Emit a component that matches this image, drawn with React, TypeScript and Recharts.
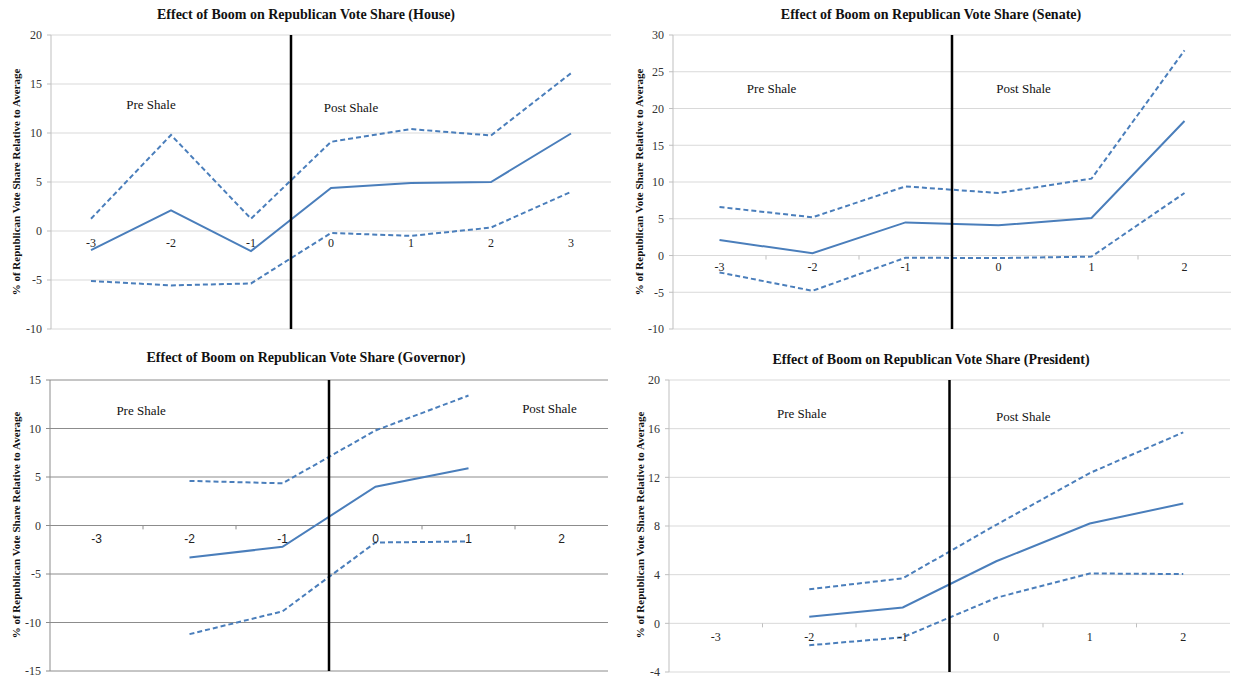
import React from 'react';
import { LineChart, Line, XAxis, YAxis, CartesianGrid, ReferenceLine, ReferenceDot } from 'recharts';

const houseYears = [-3, -2, -1, 0, 1, 2, 3];
const houseMean = [-1.95, 2.1, -2.05, 4.4, 4.9, 5.0, 9.95];
const houseUpper = [1.25, 9.8, 1.25, 9.1, 10.4, 9.75, 16.1];
const houseLower = [-5.1, -5.55, -5.35, -0.2, -0.5, 0.35, 4.0];
const houseTicks = [-10, -5, 0, 5, 10, 15, 20];

const senateYears = [-3, -2, -1, 0, 1, 2];
const senateMean = [2.1, 0.3, 4.5, 4.1, 5.1, 18.3];
const senateUpper = [6.6, 5.2, 9.4, 8.5, 10.45, 27.9];
const senateLower = [-2.3, -4.8, -0.3, -0.35, -0.15, 8.5];
const senateTicks = [-10, -5, 0, 5, 10, 15, 20, 25, 30];

const governorYears = [-3, -2, -1, 0, 1, 2];
const governorMean = [null, -3.3, -2.2, 4.0, 5.9, null];
const governorUpper = [null, 4.6, 4.35, 9.8, 13.4, null];
const governorLower = [null, -11.2, -8.85, -1.75, -1.65, null];
const governorTicks = [-15, -10, -5, 0, 5, 10, 15];

const presidentYears = [-3, -2, -1, 0, 1, 2];
const presidentMean = [null, 0.55, 1.3, 5.1, 8.2, 9.85];
const presidentUpper = [null, 2.8, 3.7, 8.1, 12.35, 15.7];
const presidentLower = [null, -1.8, -1.15, 2.1, 4.1, 4.05];
const presidentTicks = [-4, 0, 4, 8, 12, 16, 20];

const BLUE = '#4a7ebb';
const SERIF = '"Liberation Serif", "Times New Roman", serif';
const SANS = '"Liberation Sans", Arial, sans-serif';
const Y_LABEL = '% of Republican Vote Share Relative to Average';

type Val = number | null;
type Note = { text: string; x: number; y: number };

type PanelProps = {
  left: number;
  top: number;
  width: number;
  height: number;
  margin: { top: number; right: number; bottom: number; left: number };
  yWidth: number;
  years: number[];
  mean: Val[];
  upper: Val[];
  lower: Val[];
  yTicks: number[];
  notes: Note[];
  gridColor: string;
  axisColor: string;
  xFont: string;
  tickLen: number;
  xOffset: number;
  xTickMarks: boolean;
};

const Panel: React.FC<PanelProps> = (p) => {
  const data = p.years.map((x, i) => ({ x, mean: p.mean[i], upper: p.upper[i], lower: p.lower[i] }));
  const lo = p.yTicks[0];
  const hi = p.yTicks[p.yTicks.length - 1];
  const bounds = p.years.slice(0, -1).map((y) => y + 0.5);
  return (
    <div style={{ position: 'absolute', left: p.left, top: p.top }}>
      <LineChart width={p.width} height={p.height} data={data} margin={p.margin}>
        <CartesianGrid vertical={false} stroke={p.gridColor} />
        <XAxis
          type="number"
          dataKey="x"
          domain={[p.years[0] - 0.5, p.years[p.years.length - 1] + 0.5]}
          hide
          height={0}
        />
        <YAxis
          type="number"
          domain={[lo, hi]}
          ticks={p.yTicks}
          interval={0}
          width={p.yWidth}
          axisLine={{ stroke: p.axisColor }}
          tickLine={{ stroke: p.axisColor }}
          tickSize={4}
          tickMargin={5}
          tick={{ fill: '#333', fontSize: 12, fontFamily: SERIF }}
        />
        {p.xTickMarks &&
          bounds.map((b) => (
            <ReferenceLine
              key={'t' + b}
              segment={[{ x: b, y: 0 }, { x: b, y: -p.tickLen }]}
              stroke={p.axisColor}
            />
          ))}
        {p.years.map((c) => (
          <ReferenceDot
            key={'l' + c}
            x={c}
            y={0}
            r={0}
            fill="none"
            stroke="none"
            label={{ value: String(c), position: 'bottom', offset: p.xOffset, fill: '#222', fontSize: 12, fontFamily: p.xFont }}
          />
        ))}
        {p.notes.map((n) => (
          <ReferenceDot
            key={n.text}
            x={n.x}
            y={n.y}
            r={0}
            fill="none"
            stroke="none"
            label={{ value: n.text, position: 'center', fill: '#111', fontSize: 13, fontFamily: SERIF }}
          />
        ))}
        <Line type="linear" dataKey="upper" stroke={BLUE} strokeWidth={2} strokeDasharray="5 3" dot={false} isAnimationActive={false} />
        <Line type="linear" dataKey="lower" stroke={BLUE} strokeWidth={2} strokeDasharray="5 3" dot={false} isAnimationActive={false} />
        <Line type="linear" dataKey="mean" stroke={BLUE} strokeWidth={2} dot={false} isAnimationActive={false} />
        <ReferenceLine x={-0.5} stroke="#000" strokeWidth={2.5} />
      </LineChart>
    </div>
  );
};

const Title: React.FC<{ text: string; cx: number; cy: number }> = ({ text, cx, cy }) => (
  <div
    style={{
      position: 'absolute',
      left: cx - 250,
      top: cy - 9,
      width: 500,
      height: 18,
      lineHeight: '18px',
      textAlign: 'center',
      fontFamily: SERIF,
      fontWeight: 'bold',
      fontSize: 14,
      color: '#111',
    }}
  >
    {text}
  </div>
);

const YLabel: React.FC<{ cx: number; cy: number }> = ({ cx, cy }) => (
  <div
    style={{
      position: 'absolute',
      left: cx - 150,
      top: cy - 8,
      width: 300,
      height: 16,
      lineHeight: '16px',
      textAlign: 'center',
      transform: 'rotate(-90deg)',
      fontFamily: SERIF,
      fontWeight: 'bold',
      fontSize: 11,
      color: '#111',
    }}
  >
    {Y_LABEL}
  </div>
);

const App: React.FC = () => {
  return (
    <div style={{ position: 'absolute', left: 0, top: 0, width: 1233, height: 679, background: '#fff', overflow: 'hidden' }}>
      <Panel
        left={0}
        top={0}
        width={620}
        height={340}
        margin={{ top: 35, right: 9, bottom: 11, left: 0 }}
        yWidth={51}
        years={houseYears}
        mean={houseMean}
        upper={houseUpper}
        lower={houseLower}
        yTicks={houseTicks}
        notes={[
          { text: 'Pre Shale', x: -2.25, y: 12.9 },
          { text: 'Post Shale', x: 0.25, y: 12.6 },
        ]}
        gridColor="#d9d9d9"
        axisColor="#bfbfbf"
        xFont={SERIF}
        tickLen={0.4}
        xOffset={7}
        xTickMarks={false}
      />
      <Panel
        left={620}
        top={0}
        width={613}
        height={340}
        margin={{ top: 35, right: 2, bottom: 11, left: 0 }}
        yWidth={53}
        years={senateYears}
        mean={senateMean}
        upper={senateUpper}
        lower={senateLower}
        yTicks={senateTicks}
        notes={[
          { text: 'Pre Shale', x: -2.44, y: 22.8 },
          { text: 'Post Shale', x: 0.27, y: 22.8 },
        ]}
        gridColor="#d9d9d9"
        axisColor="#bfbfbf"
        xFont={SERIF}
        tickLen={0.55}
        xOffset={7}
        xTickMarks={true}
      />
      <Panel
        left={0}
        top={340}
        width={620}
        height={340}
        margin={{ top: 40, right: 12, bottom: 9, left: 0 }}
        yWidth={50}
        years={governorYears}
        mean={governorMean}
        upper={governorUpper}
        lower={governorLower}
        yTicks={governorTicks}
        notes={[
          { text: 'Pre Shale', x: -2.52, y: 11.9 },
          { text: 'Post Shale', x: 1.87, y: 12.1 },
        ]}
        gridColor="#8c8c8c"
        axisColor="#8c8c8c"
        xFont={SANS}
        tickLen={0.4}
        xOffset={9}
        xTickMarks={true}
      />
      <Panel
        left={620}
        top={340}
        width={613}
        height={340}
        margin={{ top: 40, right: 3, bottom: 8, left: 0 }}
        yWidth={49}
        years={presidentYears}
        mean={presidentMean}
        upper={presidentUpper}
        lower={presidentLower}
        yTicks={presidentTicks}
        notes={[
          { text: 'Pre Shale', x: -2.08, y: 17.25 },
          { text: 'Post Shale', x: 0.29, y: 17.0 },
        ]}
        gridColor="#d9d9d9"
        axisColor="#bfbfbf"
        xFont={SERIF}
        tickLen={0.33}
        xOffset={9}
        xTickMarks={true}
      />
      <Title text="Effect of Boom on Republican Vote Share (House)" cx={306} cy={15} />
      <Title text="Effect of Boom on Republican Vote Share (Senate)" cx={931} cy={15} />
      <Title text="Effect of Boom on Republican Vote Share (Governor)" cx={306} cy={358} />
      <Title text="Effect of Boom on Republican Vote Share (President)" cx={931} cy={360} />
      <YLabel cx={16} cy={182} />
      <YLabel cx={639} cy={182} />
      <YLabel cx={16} cy={525} />
      <YLabel cx={640} cy={525} />
    </div>
  );
};

export default App;
